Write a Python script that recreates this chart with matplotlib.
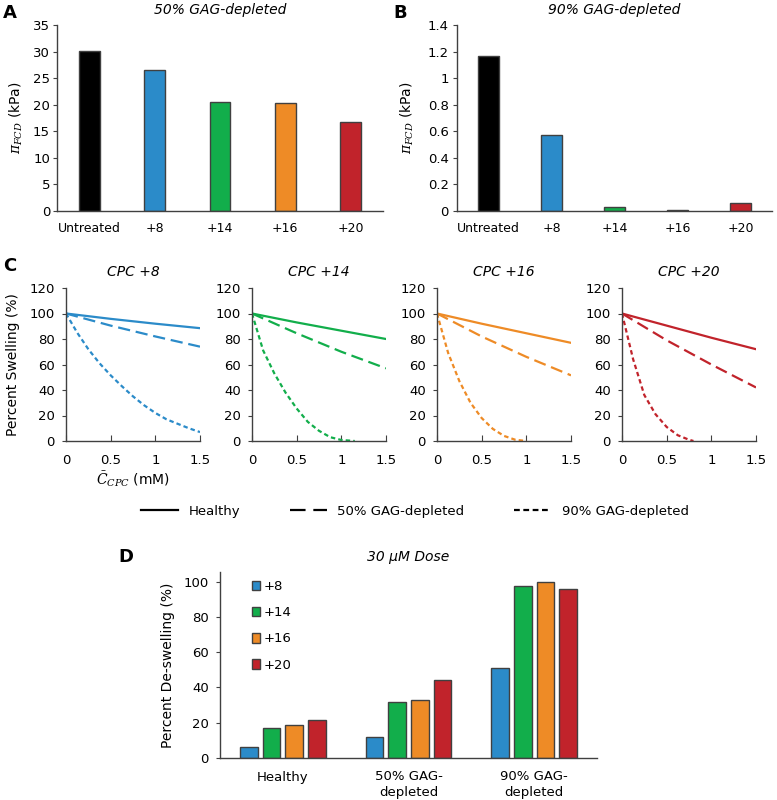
import numpy as np
import matplotlib
matplotlib.use('Agg')
from matplotlib import pyplot as plt
from matplotlib.lines import Line2D


# panel A / B: pi_FCD (kPa)
bar_labels = ['Untreated', '+8', '+14', '+16', '+20']
pi_50 = [30.2, 26.6, 20.6, 20.3, 16.8]
pi_90 = [1.165, 0.575, 0.03, 0.01, 0.057]

# panel C: percent swelling vs C_CPC
cpc_names = ['CPC +8', 'CPC +14', 'CPC +16', 'CPC +20']
x_lin = [0, 0.5, 1.0, 1.5]
healthy = [[100, 95.8, 92, 88.5],
           [100, 93, 86.5, 80],
           [100, 92, 84.5, 77],
           [100, 90.5, 81, 72]]
gag50 = [[100, 90.5, 82, 74],
         [100, 84.5, 70, 57],
         [100, 82, 66, 51.5],
         [100, 79, 60, 42]]
x90 = [[0, 0.125, 0.25, 0.375, 0.5, 0.625, 0.75, 0.875, 1.0, 1.125, 1.25, 1.375, 1.5],
       [0, 0.125, 0.25, 0.375, 0.5, 0.625, 0.75, 0.875, 1.0, 1.15],
       [0, 0.125, 0.25, 0.375, 0.5, 0.625, 0.75, 0.875, 1.0],
       [0, 0.125, 0.25, 0.375, 0.5, 0.625, 0.75, 0.8]]
gag90 = [[100, 85, 72, 61, 51.5, 43, 35, 28, 22, 17, 13.5, 10, 7],
         [100, 71, 53, 38, 25.5, 15, 8, 3, 0.8, 0],
         [100, 69, 47, 30, 18, 9.5, 4, 1, 0],
         [100, 64, 36, 21, 11, 4.5, 1, 0]]

# panel D: percent de-swelling, 30 uM dose
groups = ['Healthy', '50% GAG-\ndepleted', '90% GAG-\ndepleted']
series = ['+8', '+14', '+16', '+20']
deswell = [[6.5, 11.8, 50.8],
           [16.8, 31.8, 97.8],
           [18.5, 32.8, 99.8],
           [21.8, 44.2, 95.8]]

colors = ['#2b8bc9', '#12ae4b', '#ee8b26', '#c1232b']
bar_colors = ['black'] + colors
edge = '#404040'

plt.rcParams['font.family'] = ['DejaVu Sans']
plt.rcParams['mathtext.fontset'] = 'dejavuserif'

W, H = 777, 800
fig = plt.figure(figsize=(W / 100, H / 100), dpi=100)


def box(x0, y0, x1, y1):
    # pixel box -> figure fraction
    return [x0 / W, 1 - y1 / H, (x1 - x0) / W, (y1 - y0) / H]


def style(ax):
    for s in ['top', 'right']:
        ax.spines[s].set_visible(False)
    for s in ['left', 'bottom']:
        ax.spines[s].set_color(edge)
        ax.spines[s].set_linewidth(1)


# ---- A and B
for k, (vals, title, ymax, step, pos, letter, lx) in enumerate([
        (pi_50, '50% GAG-depleted', 35, 5, (57, 25, 383, 211), 'A', 3),
        (pi_90, '90% GAG-depleted', 1.4, 0.2, (457, 25, 772, 211), 'B', 393)]):
    ax = fig.add_axes(box(*pos))
    style(ax)
    x = np.arange(len(bar_labels))
    ax.bar(x, vals, width=0.32, color=bar_colors, edgecolor=edge, linewidth=1)
    ax.set_xlim(-0.5, len(bar_labels) - 0.5)
    ax.set_ylim(0, ymax)
    ax.set_yticks(np.arange(0, ymax + step / 2, step))
    if k == 1:
        ax.set_yticklabels(['0', '0.2', '0.4', '0.6', '0.8', '1', '1.2', '1.4'])
    ax.set_xticks(x)
    ax.set_xticklabels(bar_labels)
    ax.tick_params(axis='x', length=0, pad=8, labelsize=9)
    ax.tick_params(axis='y', length=3, pad=2 if k == 0 else 3, labelsize=9.5,
                   color=edge)
    ax.set_ylabel(r'$\pi_{FCD}$ (kPa)', fontsize=10,
                  labelpad=6 if k == 0 else 8)
    ax.set_title(title, fontsize=10, style='italic', pad=8)
    fig.text(lx / W, 1 - 13 / H, letter, fontsize=13, fontweight='bold',
             va='center', ha='left')

# ---- C
lefts = [66, 252, 437, 622]
for i in range(4):
    ax = fig.add_axes(box(lefts[i], 288, lefts[i] + 134, 441))
    style(ax)
    c = colors[i]
    ax.plot(x_lin, healthy[i], color=c, lw=1.6)
    ax.plot(x_lin, gag50[i], color=c, lw=1.6, dashes=(5.5, 2.6))
    ax.plot(x90[i], gag90[i], color=c, lw=1.6, dashes=(2, 1.4))
    ax.set_xlim(0, 1.5)
    ax.set_ylim(0, 120)
    ax.set_xticks([0, 0.5, 1, 1.5])
    ax.set_xticklabels(['0', '0.5', '1', '1.5'])
    ax.set_yticks(range(0, 121, 20))
    ax.tick_params(axis='x', direction='in', length=4, pad=9, labelsize=9.5,
                   color=edge)
    ax.tick_params(axis='y', length=3, pad=5, labelsize=9.5, color=edge)
    ax.set_title(cpc_names[i], fontsize=10, style='italic', pad=9)
    if i == 0:
        ax.set_ylabel('Percent Swelling (%)', fontsize=10, labelpad=7)
        ax.set_xlabel(r'$\bar{C}_{CPC}$ (mM)', fontsize=10, labelpad=2)
fig.text(3 / W, 1 - 266 / H, 'C', fontsize=13, fontweight='bold',
         va='center', ha='left')

handles = [Line2D([], [], color='black', lw=1.6),
           Line2D([], [], color='black', lw=1.6, dashes=(7, 3.5)),
           Line2D([], [], color='black', lw=1.6, dashes=(2.6, 1.6))]
fig.legend(handles, ['Healthy', '50% GAG-depleted', '90% GAG-depleted'],
           loc='center', bbox_to_anchor=(415 / W, 1 - 511 / H), ncol=3,
           frameon=False, fontsize=9.5, handlelength=2.8, handletextpad=0.8,
           columnspacing=3.75)

# ---- D
ax = fig.add_axes(box(220, 572, 597, 758))
style(ax)
xg = np.arange(len(groups))
step = 0.18
for j in range(4):
    ax.bar(xg + (j - 1.5) * step, deswell[j], width=0.14, color=colors[j],
           edgecolor=edge, linewidth=1, label=series[j])
ax.set_xlim(-0.5, len(groups) - 0.5)
ax.set_ylim(0, 105.5)
ax.set_yticks(range(0, 101, 20))
ax.set_xticks(xg)
ax.set_xticklabels(groups, linespacing=1.25)
ax.tick_params(axis='x', length=0, pad=9, labelsize=9.5)
ax.tick_params(axis='y', length=3, pad=5, labelsize=9.5, color=edge)
ax.set_ylabel('Percent De-swelling (%)', fontsize=10, labelpad=6)
ax.set_title('30 \u03bcM Dose', fontsize=10, style='italic', pad=8)
ax.legend(loc='upper left', bbox_to_anchor=(0.07, 0.985), frameon=False,
          fontsize=9.5, handlelength=0.6, handleheight=0.75, handletextpad=0.3,
          labelspacing=1.0, borderaxespad=0)
fig.text(118 / W, 1 - 557 / H, 'D', fontsize=13, fontweight='bold',
         va='center', ha='left')

fig.savefig('out.png', dpi=100)
